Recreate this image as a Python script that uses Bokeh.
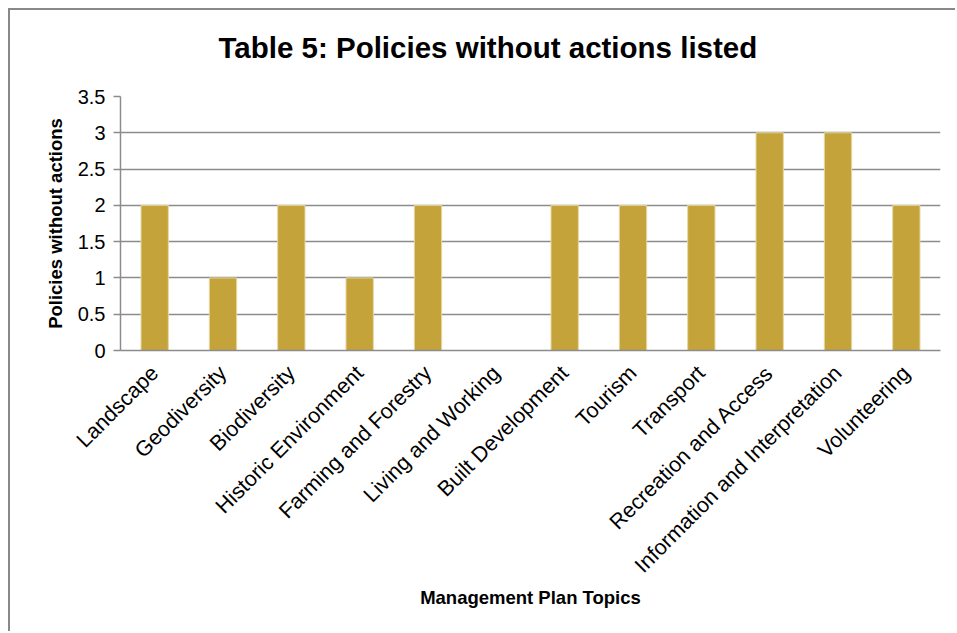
from bokeh.plotting import figure
from bokeh.models import FixedTicker, Range1d, Title
from bokeh.embed import file_html
from bokeh.resources import INLINE

categories = ["Landscape", "Geodiversity", "Biodiversity", "Historic Environment",
              "Farming and Forestry", "Living and Working", "Built Development",
              "Tourism", "Transport", "Recreation and Access",
              "Information and Interpretation", "Volunteering"]
values = [2, 1, 2, 1, 2, 0, 2, 2, 2, 3, 3, 2]
y_ticks = [0, 0.5, 1, 1.5, 2, 2.5, 3, 3.5]
y_tick_labels = ["0", "0.5", "1", "1.5", "2", "2.5", "3", "3.5"]
title_text = "Table 5: Policies without actions listed"

FONT = "Liberation Sans"
GRID = "#8c8c8c"

p = figure(x_range=categories, y_range=Range1d(0, 3.5), width=947, height=623,
           output_backend="svg", toolbar_location=None, title=None,
           min_border_left=110, min_border_right=17, min_border_top=86, min_border_bottom=283)
p.styles = {"margin-left": "8px", "margin-top": "8px",
            "border-left": "2px solid #888888", "border-top": "2px solid #888888"}

p.vbar(x=categories, top=values, width=0.4, fill_color="#C4A33A", line_color="#E6D7A2", line_width=1)

# the title gets an empty second line so that it sits higher above the frame
p.add_layout(Title(text=title_text + "\n ", text_font=FONT, text_font_size="29.5px",
                   text_font_style="bold", align="left", offset=98, standoff=0,
                   text_color="#000000"), "above")

p.outline_line_color = None
p.xgrid.grid_line_color = None
p.ygrid.grid_line_color = GRID
p.ygrid.grid_line_width = 1.5
p.ygrid.ticker = FixedTicker(ticks=y_ticks)

p.yaxis.ticker = FixedTicker(ticks=y_ticks)
p.yaxis.major_label_overrides = {t: l for t, l in zip(y_ticks, y_tick_labels)}
p.yaxis.axis_label = "Policies without actions"
p.yaxis.minor_tick_line_color = None
p.yaxis.major_tick_in = 0
p.yaxis.major_tick_out = 7

p.xaxis.axis_label = "Management Plan Topics"
p.xaxis.major_label_orientation = 0.785398

for ax in (p.xaxis, p.yaxis):
    ax.axis_line_color = GRID
    ax.axis_line_width = 1.5
    ax.major_tick_line_width = 1.5
    ax.major_label_text_font = FONT
    ax.major_label_text_color = "#000000"
    ax.axis_label_text_font = FONT
    ax.axis_label_text_font_size = "18.5px"
    ax.axis_label_text_font_style = "bold"
    ax.axis_label_text_color = "#000000"

p.yaxis.major_label_text_font_size = "20px"
p.xaxis.major_label_text_font_size = "21.5px"
p.yaxis.major_tick_line_color = GRID
p.xaxis.major_tick_line_color = None
p.yaxis.major_label_standoff = 8
p.yaxis.axis_label_standoff = 9
p.xaxis.major_label_standoff = 13
p.xaxis.axis_label_standoff = -2

open("out.html", "w").write(file_html(p, INLINE))
